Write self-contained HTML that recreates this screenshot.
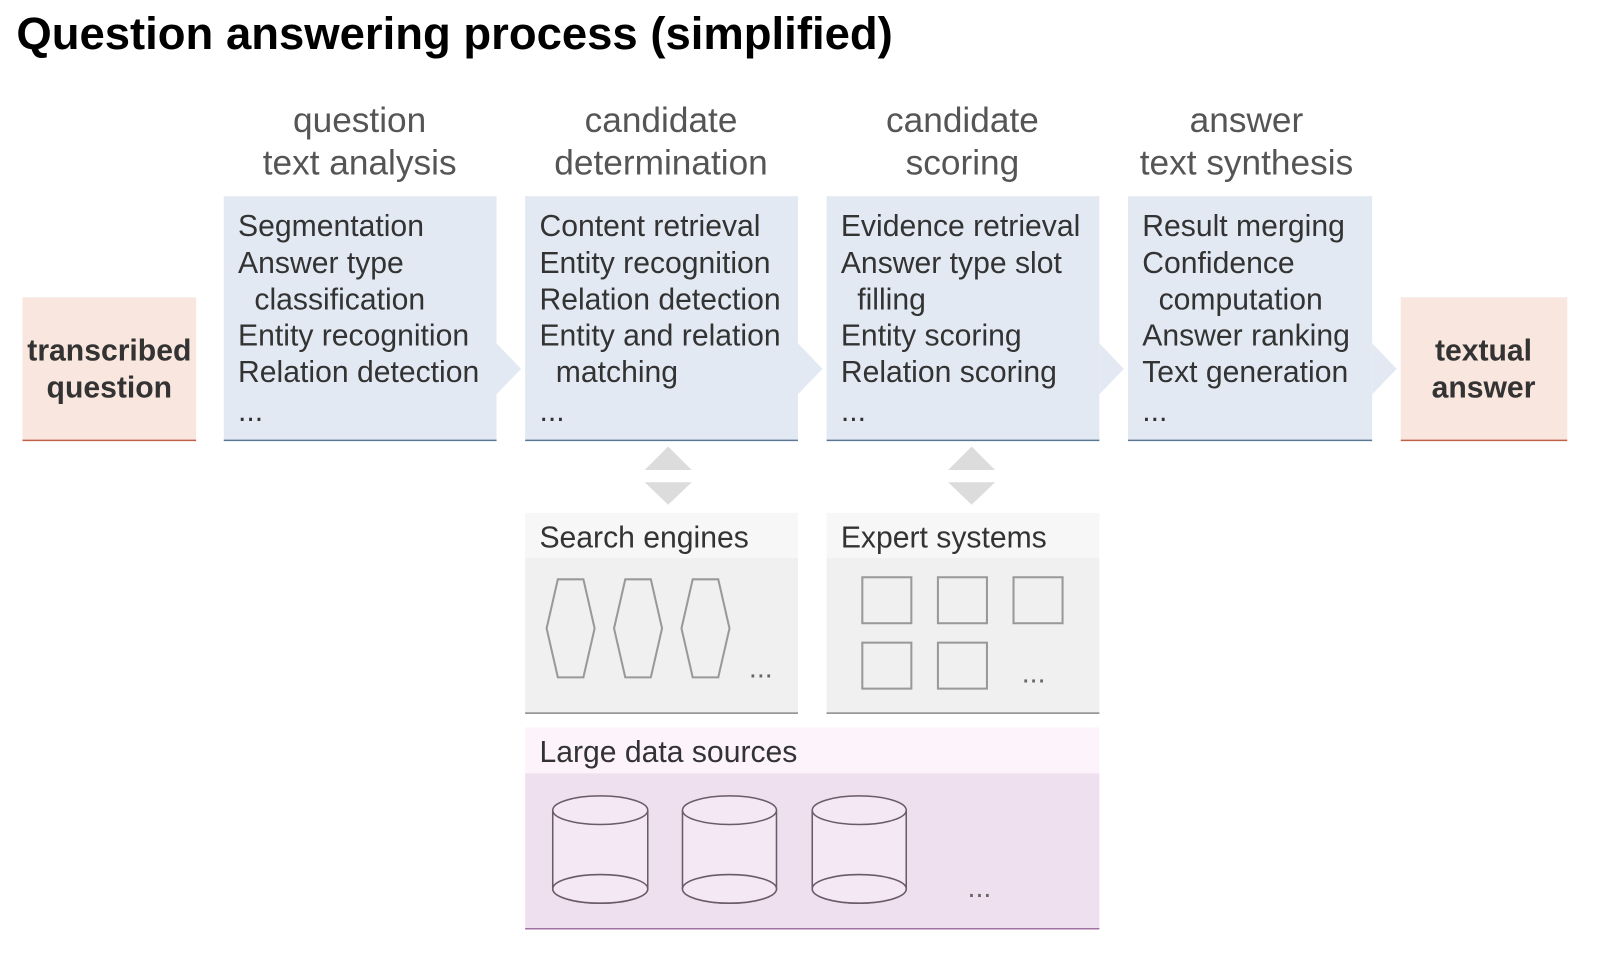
<!DOCTYPE html>
<html><head><meta charset="utf-8"><style>
html,body{margin:0;padding:0;background:#fff;}
svg{display:block;font-family:"Liberation Sans",Arial,sans-serif;}
</style></head><body>
<svg width="1602" height="972" viewBox="0 0 1602 972" xmlns="http://www.w3.org/2000/svg">
<g transform="scale(1.0217)">
<text x="16" y="48" font-size="44.5" font-weight="bold" fill="#000">Question answering process (simplified)</text>
<g font-size="34.5" fill="#555" text-anchor="middle">
<text x="352" y="129">question</text><text x="352" y="171">text analysis</text>
<text x="647" y="129">candidate</text><text x="647" y="171">determination</text>
<text x="942" y="129">candidate</text><text x="942" y="171">scoring</text>
<text x="1220" y="129">answer</text><text x="1220" y="171">text synthesis</text>
</g>
<rect x="22" y="291" width="170" height="140" fill="#f8e6df"/>
<line x1="22" y1="431" x2="192" y2="431" stroke="#c0604a" stroke-width="1.5"/>
<rect x="1371" y="291" width="163" height="140" fill="#f8e6df"/>
<line x1="1371" y1="431" x2="1534" y2="431" stroke="#c0604a" stroke-width="1.5"/>
<g font-size="29.5" font-weight="bold" fill="#333" text-anchor="middle">
<text x="107" y="353">transcribed</text><text x="107" y="389">question</text>
<text x="1452" y="353">textual</text><text x="1452" y="389">answer</text>
</g>
<g fill="#e3e9f3">
<rect x="219" y="192" width="267" height="239"/><polygon points="486,336 510,361 486,386"/>
<rect x="514" y="192" width="267" height="239"/><polygon points="781,336 805,361 781,386"/>
<rect x="809" y="192" width="267" height="239"/><polygon points="1076,336 1100,361 1076,386"/>
<rect x="1104" y="192" width="239" height="239"/><polygon points="1343,336 1367,361 1343,386"/>
</g>
<g stroke="#5b7796" stroke-width="1.5">
<line x1="219" y1="431" x2="486" y2="431"/><line x1="514" y1="431" x2="781" y2="431"/>
<line x1="809" y1="431" x2="1076" y2="431"/><line x1="1104" y1="431" x2="1343" y2="431"/>
</g>
<g font-size="29.5" fill="#333">
<text x="233" y="231">Segmentation</text><text x="233" y="267">Answer type</text><text x="249" y="303">classification</text><text x="233" y="338">Entity recognition</text><text x="233" y="374">Relation detection</text><text x="233" y="412">...</text>
<text x="528" y="231">Content retrieval</text><text x="528" y="267">Entity recognition</text><text x="528" y="303">Relation detection</text><text x="528" y="338">Entity and relation</text><text x="544" y="374">matching</text><text x="528" y="412">...</text>
<text x="823" y="231">Evidence retrieval</text><text x="823" y="267">Answer type slot</text><text x="839" y="303">filling</text><text x="823" y="338">Entity scoring</text><text x="823" y="374">Relation scoring</text><text x="823" y="412">...</text>
<text x="1118" y="231">Result merging</text><text x="1118" y="267">Confidence</text><text x="1134" y="303">computation</text><text x="1118" y="338">Answer ranking</text><text x="1118" y="374">Text generation</text><text x="1118" y="412">...</text>
</g>
<g fill="#dcdcdc">
<polygon points="631,460 654,437 677,460"/><polygon points="631,472 654,494 677,472"/>
<polygon points="928,460 951,437 974,460"/><polygon points="928,472 951,494 974,472"/>
</g>
<rect x="514" y="502" width="267" height="44" fill="#f7f7f7"/><rect x="514" y="546" width="267" height="152" fill="#f0f0f0"/>
<line x1="514" y1="698" x2="781" y2="698" stroke="#888" stroke-width="1.5"/>
<rect x="809" y="502" width="267" height="44" fill="#f7f7f7"/><rect x="809" y="546" width="267" height="152" fill="#f0f0f0"/>
<line x1="809" y1="698" x2="1076" y2="698" stroke="#888" stroke-width="1.5"/>
<rect x="514" y="712" width="562" height="45" fill="#fdf3fb"/><rect x="514" y="757" width="562" height="152" fill="#efe0ef"/>
<line x1="514" y1="909" x2="1076" y2="909" stroke="#a070a0" stroke-width="1.5"/>
<g font-size="29.5" fill="#333">
<text x="528" y="536">Search engines</text><text x="823" y="536">Expert systems</text><text x="528" y="746">Large data sources</text>
</g>
<g fill="none" stroke="#999" stroke-width="2">
<polygon points="546,567 571,567 582,615 571,663 546,663 535,615"/>
<polygon points="612,567 637,567 648,615 637,663 612,663 601,615"/>
<polygon points="678,567 703,567 714,615 703,663 678,663 667,615"/>
<rect x="844" y="565" width="48" height="45"/><rect x="918" y="565" width="48" height="45"/><rect x="992" y="565" width="48" height="45"/>
<rect x="844" y="629" width="48" height="45"/><rect x="918" y="629" width="48" height="45"/>
</g>
<g font-size="28" fill="#666"><text x="733" y="663">...</text><text x="1000" y="668">...</text><text x="947" y="878">...</text></g>
<g stroke="#6a5a6a" stroke-width="1.5" fill="#f3e8f3">
<path d="M541,793 V870 A46.5,14 0 0 0 634,870 V793"/><ellipse cx="587.5" cy="793" rx="46.5" ry="14"/><ellipse cx="587.5" cy="870" rx="46.5" ry="14"/>
<path d="M668,793 V870 A46,14 0 0 0 760,870 V793"/><ellipse cx="714" cy="793" rx="46" ry="14"/><ellipse cx="714" cy="870" rx="46" ry="14"/>
<path d="M795,793 V870 A46,14 0 0 0 887,870 V793"/><ellipse cx="841" cy="793" rx="46" ry="14"/><ellipse cx="841" cy="870" rx="46" ry="14"/>
</g>
</g>
</svg>
</body></html>
